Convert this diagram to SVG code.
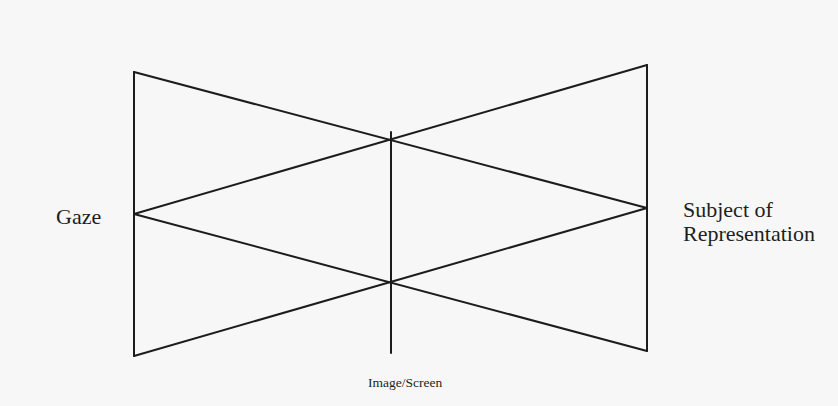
<svg xmlns="http://www.w3.org/2000/svg" width="838" height="406" viewBox="0 0 838 406">
<style>
.ln{stroke:#1c1c1c;stroke-width:2;fill:none;stroke-linecap:round;stroke-linejoin:miter}
.t{font-family:"Liberation Serif","Times New Roman",serif;fill:#1e1e1e}
</style>
<rect width="838" height="406" fill="#f7f7f7"/>
<g id="connectors">
<line class="ln" x1="134" y1="72" x2="134" y2="356"/>
<line class="ln" x1="647" y1="65" x2="647" y2="351"/>
<line class="ln" x1="391" y1="132" x2="391" y2="353"/>
<line class="ln" x1="134" y1="72" x2="647" y2="208"/>
<line class="ln" x1="134" y1="214" x2="647" y2="65"/>
<line class="ln" x1="134" y1="214" x2="647" y2="351"/>
<line class="ln" x1="134" y1="356" x2="647" y2="208"/>
</g>
<g id="gaze"><text class="t" x="56" y="224" font-size="22">Gaze</text></g>
<g id="subject"><text class="t" x="683" y="217" font-size="22">Subject of</text><text class="t" x="683" y="241" font-size="22">Representation</text></g>
<g id="screen"><text class="t" x="368" y="387" font-size="13.5">Image/Screen</text></g>
</svg>
